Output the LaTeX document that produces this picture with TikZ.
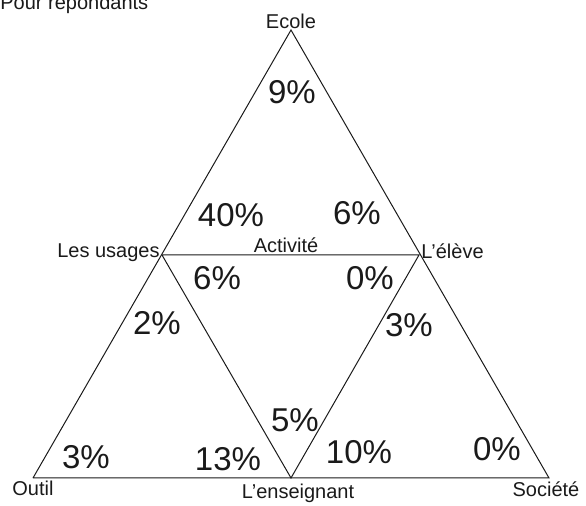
\documentclass[tikz,border=0pt]{standalone}
\usepackage{fontspec}
\setmainfont{Liberation Sans}
\usetikzlibrary{positioning}
\definecolor{ink}{HTML}{1A1A1A}
\tikzset{
  vertexlabel/.style={font=\fontsize{10}{12}\selectfont, text=ink, inner sep=0pt},
  pctlabel/.style={font=\fontsize{16.5}{19}\selectfont, text=ink, inner sep=0pt},
  edgeline/.style={draw=ink, line width=0.5pt}
}
\begin{document}
\begin{tikzpicture}[x=0.5pt,y=-0.5pt]
  \useasboundingbox (0,0) rectangle (586,506);
  % sommets
  \coordinate (ecole)   at (291,30);
  \coordinate (usages)  at (162,255);
  \coordinate (eleve)   at (419,255);
  \coordinate (outil)   at (33,478);
  \coordinate (ens)     at (291,478);
  \coordinate (societe) at (549,478);

  % triangles
  \draw[edgeline] (outil) -- (ecole) -- (societe) -- (outil);
  \draw[edgeline] (usages) -- (eleve) -- (ens) -- (usages);

  % titre (coupe en haut)
  \node[vertexlabel, anchor=base west] (titre) at (0,10) {Pour répondants};

  % noms des sommets
  \node[vertexlabel, anchor=base] (lecole) at (291,29) {Ecole};
  \node[vertexlabel, anchor=base east] (lusages) at (160,258) {Les usages};
  \node[vertexlabel, anchor=base] (lactivite) at (286,253) {Activité};
  \node[vertexlabel, anchor=base west] (leleve) at (421,259) {L'élève};
  \node[vertexlabel, anchor=base west] (loutil) at (12,496) {Outil};
  \node[vertexlabel, anchor=base] (lens) at (298,499) {L'enseignant};
  \node[vertexlabel, anchor=base] (lsociete) at (546,497) {Société};

  % pourcentages
  \node[pctlabel] (p1)  at (292,92)  {9\%};
  \node[pctlabel] (p2)  at (231,215) {40\%};
  \node[pctlabel] (p3)  at (357,213) {6\%};
  \node[pctlabel] (p4)  at (217,278) {6\%};
  \node[pctlabel] (p5)  at (370,278) {0\%};
  \node[pctlabel] (p6)  at (157,323) {2\%};
  \node[pctlabel] (p7)  at (409,325) {3\%};
  \node[pctlabel] (p8)  at (295,420) {5\%};
  \node[pctlabel] (p9)  at (86,457)  {3\%};
  \node[pctlabel] (p10) at (228,459) {13\%};
  \node[pctlabel] (p11) at (359,452) {10\%};
  \node[pctlabel] (p12) at (497,449) {0\%};
\end{tikzpicture}
\end{document}
